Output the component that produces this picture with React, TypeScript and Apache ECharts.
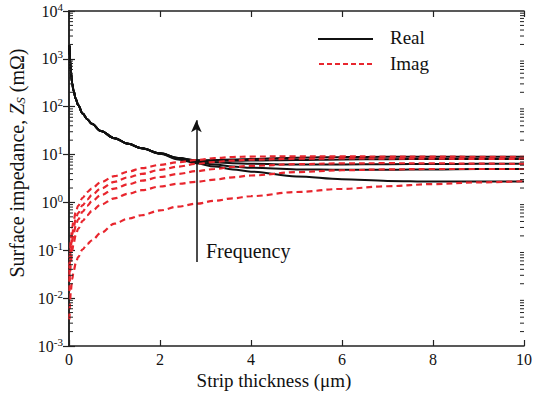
import React, { useEffect, useRef } from "react";
import * as echarts from "echarts";

// Strip thickness (µm)
const thickness = [0.01, 0.02, 0.04, 0.07, 0.1, 0.15, 0.2, 0.3, 0.4, 0.5, 0.7, 1, 1.3, 1.6, 2, 2.4, 2.8, 3.2, 3.6, 4, 5, 6, 7, 8, 9, 10];

// Real part of surface impedance (mΩ), five frequencies (high -> low)
const real5 = [1900, 1050, 540, 310, 215, 145, 108, 72, 55, 44, 31, 22, 16.8, 13.5, 10.4, 7.9, 6.6, 5.6, 4.9, 4.4, 3.5, 3.05, 2.82, 2.74, 2.73, 2.75];
const real4 = [1900, 1050, 540, 310, 215, 145, 108, 72, 55, 44, 31, 22, 16.8, 13.5, 10.5, 8.2, 7.0, 6.2, 5.6, 5.3, 4.9, 4.8, 4.8, 4.9, 5.0, 5.0];
const real3 = [1900, 1050, 540, 310, 215, 145, 108, 72, 55, 44, 31, 22, 16.8, 13.5, 10.6, 8.4, 7.3, 6.9, 6.6, 6.4, 6.2, 6.2, 6.3, 6.35, 6.4, 6.4];
const real2 = [1900, 1050, 540, 310, 215, 145, 108, 72, 55, 44, 31, 22, 16.8, 13.5, 10.6, 8.5, 7.5, 7.4, 7.4, 7.5, 7.7, 7.9, 8.0, 8.1, 8.1, 8.1];
const real1 = [1900, 1050, 540, 310, 215, 145, 108, 72, 55, 44, 31, 22, 16.8, 13.5, 10.6, 8.5, 7.6, 7.7, 7.9, 8.1, 8.6, 8.9, 9.0, 9.0, 9.0, 9.0];

// Imaginary part of surface impedance (mΩ)
const imag5 = [0.0036, 0.0072, 0.0145, 0.025, 0.036, 0.054, 0.072, 0.105, 0.135, 0.16, 0.23, 0.36, 0.46, 0.54, 0.68, 0.82, 0.94, 1.08, 1.22, 1.35, 1.65, 1.92, 2.18, 2.42, 2.62, 2.78];
const imag4 = [0.014, 0.028, 0.056, 0.098, 0.14, 0.21, 0.28, 0.41, 0.54, 0.66, 0.9, 1.22, 1.52, 1.8, 2.15, 2.45, 2.7, 3.0, 3.35, 3.65, 4.3, 4.7, 4.9, 5.0, 5.0, 5.0];
const imag3 = [0.022, 0.044, 0.088, 0.15, 0.22, 0.33, 0.44, 0.64, 0.85, 1.05, 1.42, 1.95, 2.4, 2.85, 3.4, 3.95, 4.5, 5.0, 5.5, 5.8, 6.3, 6.55, 6.6, 6.55, 6.45, 6.4];
const imag2 = [0.03, 0.06, 0.12, 0.21, 0.3, 0.45, 0.6, 0.88, 1.15, 1.42, 1.95, 2.7, 3.35, 3.95, 4.8, 5.6, 6.4, 7.0, 7.5, 7.8, 8.2, 8.3, 8.25, 8.2, 8.1, 8.1];
const imag1 = [0.042, 0.085, 0.17, 0.3, 0.42, 0.63, 0.85, 1.25, 1.65, 1.95, 2.65, 3.55, 4.4, 5.2, 6.1, 6.9, 7.7, 8.4, 8.9, 9.1, 9.2, 9.15, 9.1, 9.05, 9.0, 9.0];

const realSeries = [real1, real2, real3, real4, real5];
const imagSeries = [imag1, imag2, imag3, imag4, imag5];

// Axis ticks
const xTicks = [0, 2, 4, 6, 8, 10];
const yMin = 0.001;
const yMax = 10000;
const decades = [-3, -2, -1, 0, 1, 2, 3];
const minorMultipliers = [2, 3, 4, 5, 6, 7, 8, 9];

// "Frequency" arrow annotation (thickness, impedance)
const arrowX = 2.8;
const arrowFrom = 0.057;
const arrowTo = 52;

const FONT = "'Liberation Serif', 'Times New Roman', serif";
const TEXT = "#111";
const RED = "#e8262e";

export default function App() {
  const ref = useRef<HTMLDivElement>(null);

  useEffect(() => {
    if (!ref.current) return;
    const chart = echarts.init(ref.current, undefined, { renderer: "svg" });

    const minorTicks: number[][] = [];
    decades.forEach((d) => {
      minorMultipliers.forEach((m) => minorTicks.push([0, m * Math.pow(10, d)]));
    });

    const lineData = (arr: number[]) => thickness.map((t, i) => [t, arr[i]]);

    const series: any[] = [];
    realSeries.forEach((arr, i) => {
      series.push({
        name: "Real",
        type: "line",
        data: lineData(arr),
        showSymbol: false,
        smooth: 0.35,
        smoothMonotone: "x",
        lineStyle: { color: "#111", width: 2 },
        itemStyle: { color: "#111" },
        z: 3,
        markLine:
          i === 0
            ? {
                silent: true,
                symbol: ["none", "arrow"],
                symbolSize: [8, 12],
                label: { show: false },
                lineStyle: { color: "#111", width: 1.5, type: "solid" },
                data: [[{ coord: [arrowX, arrowFrom] }, { coord: [arrowX, arrowTo] }]],
              }
            : undefined,
      });
    });
    imagSeries.forEach((arr) => {
      series.push({
        name: "Imag",
        type: "line",
        data: lineData(arr),
        showSymbol: false,
        smooth: 0.35,
        smoothMonotone: "x",
        lineStyle: { color: RED, width: 2.2, type: [6, 4] },
        itemStyle: { color: RED },
        z: 4,
      });
    });
    series.push({
      type: "custom",
      silent: true,
      clip: false,
      z: 10,
      data: minorTicks,
      encode: { x: 0, y: 1 },
      renderItem: (params: any, api: any) => {
        const v = api.value(1);
        const l = api.coord([0, v]);
        const r = api.coord([10, v]);
        const st = { stroke: "#222", lineWidth: 1 };
        return {
          type: "group",
          children: [
            { type: "line", shape: { x1: l[0], y1: l[1], x2: l[0] + 4, y2: l[1] }, style: st },
            { type: "line", shape: { x1: r[0], y1: r[1], x2: r[0] - 4, y2: r[1] }, style: st },
          ],
        };
      },
    });

    const axisLine = { show: true, lineStyle: { color: "#222", width: 1.6 } };
    const tickStyle = { show: true, inside: true, length: 6, lineStyle: { color: "#222", width: 1.2 } };

    chart.setOption({
      animation: false,
      grid: { left: 69, right: 9, top: 11, bottom: 49, containLabel: false },
      xAxis: [
        {
          type: "value",
          min: 0,
          max: 10,
          interval: 2,
          axisLine,
          axisTick: tickStyle,
          splitLine: { show: false },
          axisLabel: {
            color: TEXT,
            fontFamily: FONT,
            fontSize: 16,
            margin: 5,
            formatter: (v: number) => (xTicks.includes(v) ? String(v) : ""),
          },
        },
        {
          type: "value",
          position: "top",
          min: 0,
          max: 10,
          interval: 2,
          axisLine,
          axisTick: tickStyle,
          splitLine: { show: false },
          axisLabel: { show: false },
        },
      ],
      yAxis: [
        {
          type: "log",
          logBase: 10,
          min: yMin,
          max: yMax,
          splitNumber: 7,
          axisLine,
          axisTick: tickStyle,
          splitLine: { show: false },
          axisLabel: {
            fontFamily: FONT,
            color: TEXT,
            margin: 6,
            formatter: (v: number) => `{a|10}{b|${Math.round(Math.log10(v))}}`,
            rich: {
              a: { fontFamily: FONT, fontSize: 16, color: TEXT },
              b: { fontFamily: FONT, fontSize: 11, color: TEXT, padding: [0, 0, 9, 0] },
            },
          },
        },
        {
          type: "log",
          logBase: 10,
          position: "right",
          min: yMin,
          max: yMax,
          splitNumber: 7,
          axisLine,
          axisTick: tickStyle,
          splitLine: { show: false },
          axisLabel: { show: false },
        },
      ],
      series,
      graphic: [
        {
          type: "text",
          x: 17,
          y: 163,
          rotation: Math.PI / 2,
          style: {
            text: "{n|Surface impedance, }{i|Z}{s|S}{n| (mΩ)}",
            align: "center",
            verticalAlign: "middle",
            rich: {
              n: { fontFamily: FONT, fontSize: 20, fill: TEXT },
              i: { fontFamily: FONT, fontSize: 20, fontStyle: "italic", fill: TEXT },
              s: { fontFamily: FONT, fontSize: 13, fontStyle: "italic", fill: TEXT, padding: [6, 0, 0, 0] },
            },
          },
        },
        {
          type: "text",
          x: 274,
          y: 380,
          style: {
            text: "Strip thickness (μm)",
            font: `19px ${FONT}`,
            fill: TEXT,
            align: "center",
            verticalAlign: "middle",
          },
        },
        {
          type: "text",
          x: 206,
          y: 251,
          style: {
            text: "Frequency",
            font: `20px ${FONT}`,
            fill: TEXT,
            align: "left",
            verticalAlign: "middle",
          },
        },
        {
          type: "line",
          shape: { x1: 318, y1: 39, x2: 373, y2: 39 },
          style: { stroke: "#111", lineWidth: 2 },
        },
        {
          type: "line",
          shape: { x1: 319, y1: 64, x2: 373, y2: 64 },
          style: { stroke: RED, lineWidth: 2, lineDash: [5, 3] },
        },
        {
          type: "text",
          x: 390,
          y: 37,
          style: { text: "Real", font: `19px ${FONT}`, fill: TEXT, align: "left", verticalAlign: "middle" },
        },
        {
          type: "text",
          x: 390,
          y: 63,
          style: { text: "Imag", font: `19px ${FONT}`, fill: TEXT, align: "left", verticalAlign: "middle" },
        },
      ],
    });

    return () => chart.dispose();
  }, []);

  return (
    <div
      ref={ref}
      style={{ position: "fixed", left: 0, top: 0, width: 535, height: 395, background: "#fff" }}
    />
  );
}
